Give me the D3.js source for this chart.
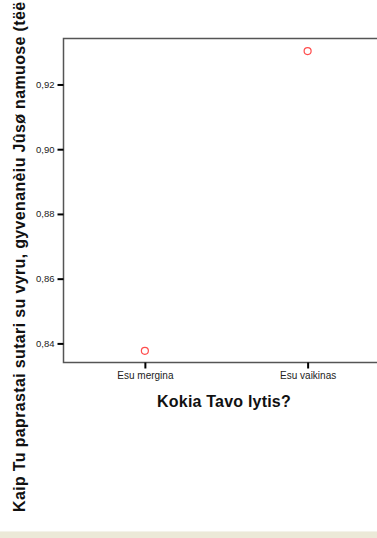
<!DOCTYPE html>
<html>
<head>
<meta charset="utf-8">
<script src="https://cdn.jsdelivr.net/npm/d3@7"></script>
<style>
  html, body { margin: 0; padding: 0; background: #fff; overflow: hidden; }
  svg { display: block; }
</style>
</head>
<body>
<svg id="chart" width="377" height="538"></svg>
<script>
// Mean answer per gender group
const categories = ["Esu mergina", "Esu vaikinas"];
const means = [0.8377, 0.9303];
const yTicks = [0.84, 0.86, 0.88, 0.90, 0.92];

const xTitle = "Kokia Tavo lytis?";
const yTitle = "Kaip Tu paprastai sutari su vyru, gyvenanèiu Jûsø namuose (tëë";

const W = 377, H = 538;
const plot = { left: 63.5, top: 38.5, right: 389, bottom: 362.5 };

const svg = d3.select("#chart");

const x = d3.scalePoint()
  .domain(categories)
  .range([plot.left, plot.right])
  .padding(0.5);

const y = d3.scaleLinear()
  .domain([0.8341, 0.9342])
  .range([plot.bottom, plot.top]);

// Plot frame
svg.append("rect")
  .attr("x", plot.left).attr("y", plot.top)
  .attr("width", plot.right - plot.left)
  .attr("height", plot.bottom - plot.top)
  .attr("fill", "none")
  .attr("stroke", "#555")
  .attr("stroke-width", 1.5);

// Y axis
const yAxis = d3.axisLeft(y)
  .tickValues(yTicks)
  .tickSize(6)
  .tickPadding(3)
  .tickFormat(d => d3.format(".2f")(d).replace(".", ","));

const gy = svg.append("g")
  .attr("transform", `translate(${plot.left},0)`)
  .call(yAxis);
gy.select(".domain").remove();
gy.selectAll(".tick line").attr("stroke", "#000").attr("stroke-width", 2);
gy.selectAll(".tick text")
  .attr("font-family", "Arial, 'Liberation Sans', sans-serif")
  .attr("font-size", 9.5)
  .attr("fill", "#222");

// X axis
const xAxis = d3.axisBottom(x).tickSize(6).tickPadding(3);
const gx = svg.append("g")
  .attr("transform", `translate(0,${plot.bottom})`)
  .call(xAxis);
gx.select(".domain").remove();
gx.selectAll(".tick line").attr("stroke", "#000").attr("stroke-width", 2);
gx.selectAll(".tick text")
  .attr("font-family", "Arial, 'Liberation Sans', sans-serif")
  .attr("font-size", 10)
  .attr("fill", "#222");

// Mean markers
svg.append("g")
  .selectAll("circle")
  .data(categories.map((c, i) => ({ c, v: means[i] })))
  .join("circle")
  .attr("cx", d => x(d.c))
  .attr("cy", d => y(d.v))
  .attr("r", 3.5)
  .attr("fill", "none")
  .attr("stroke", "#ff4d4d")
  .attr("stroke-width", 1.2);

// Axis titles
svg.append("text")
  .attr("x", 224)
  .attr("y", 407)
  .attr("text-anchor", "middle")
  .attr("font-family", "Arial, 'Liberation Sans', sans-serif")
  .attr("font-weight", "bold")
  .attr("font-size", 16)
  .attr("letter-spacing", 0.2)
  .attr("fill", "#111")
  .text(xTitle);

svg.append("text")
  .attr("transform", "translate(25,512) rotate(-90)")
  .attr("text-anchor", "start")
  .attr("font-family", "Arial, 'Liberation Sans', sans-serif")
  .attr("font-weight", "bold")
  .attr("font-size", 16)
  .attr("letter-spacing", 0.35)
  .attr("fill", "#111")
  .text(yTitle);

// Window edge strip along the bottom
svg.append("rect")
  .attr("x", 0).attr("y", 531)
  .attr("width", W).attr("height", H - 531)
  .attr("fill", "#ece9d8");
svg.append("line")
  .attr("x1", 0).attr("x2", W)
  .attr("y1", 531.5).attr("y2", 531.5)
  .attr("stroke", "#f4f2ea");
</script>
</body>
</html>
